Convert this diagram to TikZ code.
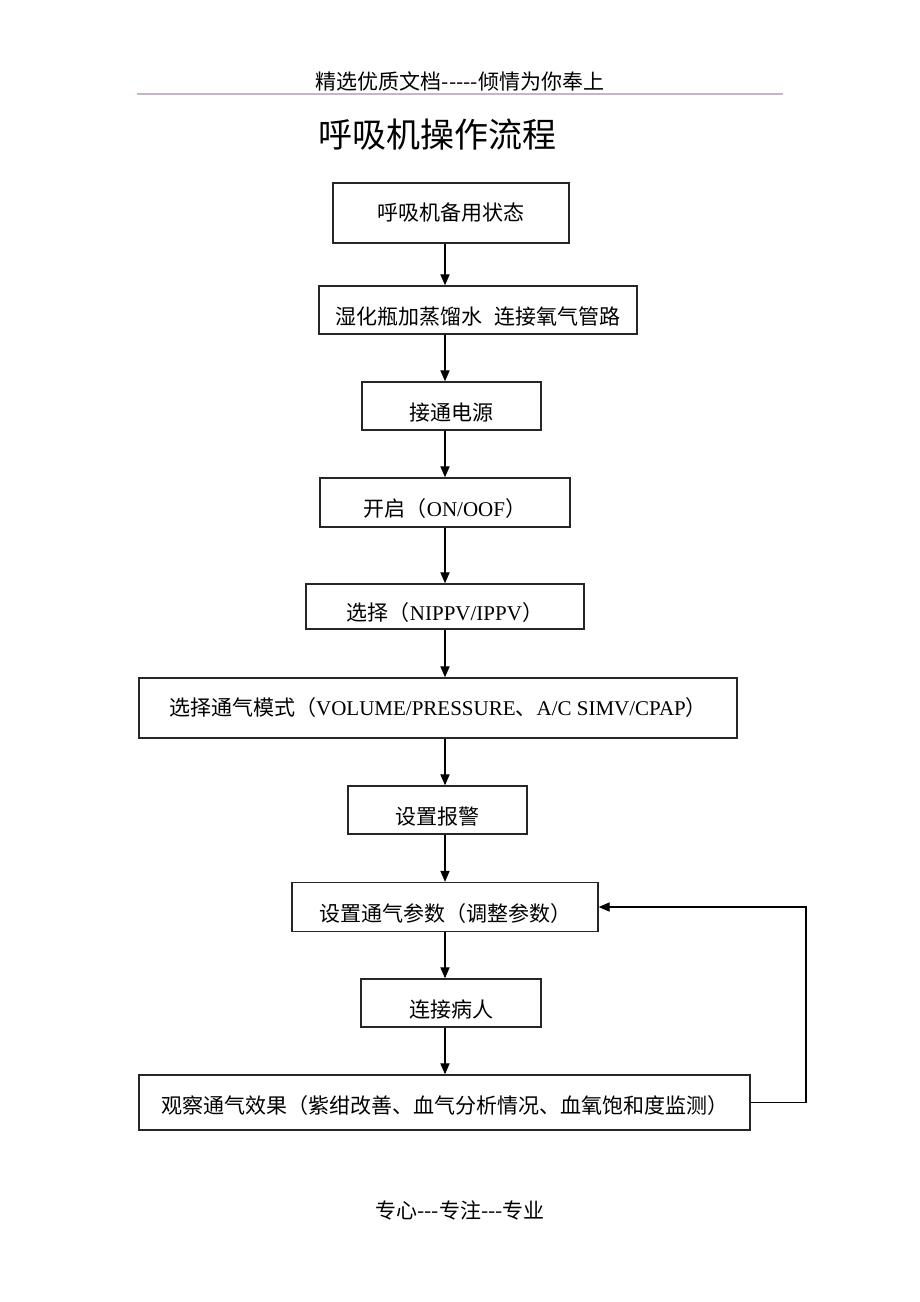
\documentclass[tikz,border=0pt]{standalone}
\usepackage{fontspec}
\setmainfont{Liberation Serif}
\newfontfamily\cjk{Noto Sans CJK SC}
\usetikzlibrary{arrows.meta}
\definecolor{rulegrey}{RGB}{200,180,200}
\begin{document}
\begin{tikzpicture}[x=0.5pt,y=-0.5pt,
        box/.style={draw=black!85,line width=0.7pt,inner sep=0pt,font=\cjk\fontsize{10.5}{12}\selectfont,text height=9.9pt,text depth=2pt},
        low/.style={text height=16.4pt},
        arr/.style={-{Triangle[length=5.5pt,width=4.6pt]},line width=0.6pt}]
        \useasboundingbox[fill=white] (0,0) rectangle (920,1302);
        \node[font=\cjk\fontsize{10.5}{12}\selectfont] (head) at (460,81) {精选优质文档-----倾情为你奉上};
        \draw[rulegrey,line width=0.6pt] (137,94) -- (783,94);
        \node[font=\cjk\fontsize{17}{20}\selectfont] (title) at (437,135) {呼吸机操作流程};
        \node[box,minimum width=118pt,minimum height=30pt] (standby) at (451,213) {呼吸机备用状态};
        \node[box,low,minimum width=159pt,minimum height=24pt] (water) at (478,310) {湿化瓶加蒸馏水\hspace{6pt}连接氧气管路};
        \node[box,low,minimum width=89.5pt,minimum height=24pt] (power) at (451.5,406) {接通电源};
        \node[box,low,minimum width=125pt,minimum height=24.5pt] (onoff) at (445,502.5) {开启（{\rmfamily ON/OOF}）};
        \node[box,low,minimum width=139pt,minimum height=22.5pt] (select) at (445,606.5) {选择（{\rmfamily NIPPV/IPPV}）};
        \node[box,minimum width=299pt,minimum height=30pt] (mode) at (438,708) {选择通气模式（{\rmfamily VOLUME/PRESSURE}、{\rmfamily A/C SIMV/CPAP}）};
        \node[box,low,minimum width=89.5pt,minimum height=24pt] (alarm) at (437.5,810) {设置报警};
        \node[box,low,minimum width=153pt,minimum height=24.5pt] (param) at (445,907) {设置通气参数（调整参数）\hspace{4pt}};
        \node[box,low,minimum width=90pt,minimum height=24pt] (patient) at (451,1003) {连接病人};
        \node[box,minimum width=305.5pt,minimum height=27.5pt,text height=13pt] (observe) at (444.5,1102.5) {观察通气效果（紫绀改善、血气分析情况、血氧饱和度监测）\hspace{6pt}};
        \coordinate (spine) at (445,0);
        \coordinate (back) at (806,0);
        \draw[arr] (standby.south -| spine) -- (water.north -| spine);
        \draw[arr] (water.south -| spine) -- (power.north -| spine);
        \draw[arr] (power.south -| spine) -- (onoff.north -| spine);
        \draw[arr] (onoff.south -| spine) -- (select.north -| spine);
        \draw[arr] (select.south -| spine) -- (mode.north -| spine);
        \draw[arr] (mode.south -| spine) -- (alarm.north -| spine);
        \draw[arr] (alarm.south -| spine) -- (param.north -| spine);
        \draw[arr] (param.south -| spine) -- (patient.north -| spine);
        \draw[arr] (patient.south -| spine) -- (observe.north -| spine);
        \draw[arr] (observe.east) -- (observe.east -| back) |- (param.east);
        \node[font=\cjk\fontsize{10.5}{12}\selectfont] (foot) at (460,1210) {专心---专注---专业};
    \end{tikzpicture}
\end{document}
